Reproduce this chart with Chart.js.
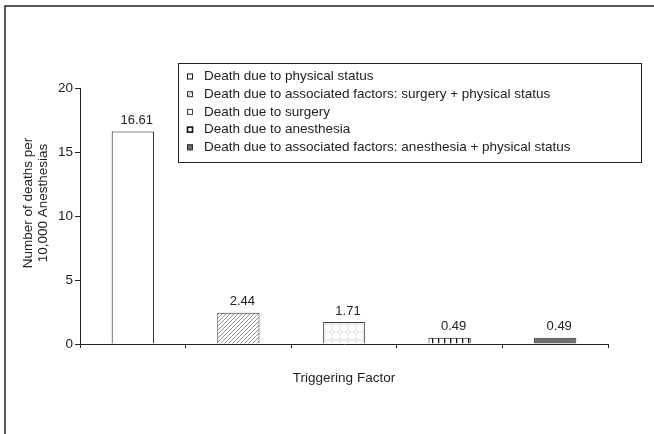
<!DOCTYPE html>
<html>
<head>
<meta charset="utf-8">
<script src="https://cdn.jsdelivr.net/npm/chart.js@4.4.1/dist/chart.umd.min.js"></script>
<style>
  html, body { margin: 0; padding: 0; background: #fff; }
  #wrap { width: 654px; height: 434px; position: relative; }
</style>
</head>
<body>
<div id="wrap"><canvas id="chart"></canvas></div>
<script>
const categories = [
  'Death due to physical status',
  'Death due to associated factors: surgery + physical status',
  'Death due to surgery',
  'Death due to anesthesia',
  'Death due to associated factors: anesthesia + physical status'
];
const deaths = [16.61, 2.44, 1.71, 0.49, 0.49];
const yTicks = [0, 5, 10, 15, 20];
const yTitle = ['Number of deaths per', '10,000 Anesthesias'];
const xTitle = 'Triggering Factor';

const FONT = '"Liberation Sans", Arial, sans-serif';
Chart.defaults.font.family = FONT;
Chart.defaults.font.size = 13.5;
Chart.defaults.color = '#222';

function makePattern(size, draw) {
  const c = document.createElement('canvas');
  c.width = size;
  c.height = size;
  const g = c.getContext('2d');
  g.fillStyle = '#fff';
  g.fillRect(0, 0, size, size);
  draw(g, size);
  return document.createElement('canvas').getContext('2d').createPattern(c, 'repeat');
}

const hatch = makePattern(4, (g, s) => {
  g.strokeStyle = '#777';
  g.lineWidth = 0.8;
  g.beginPath();
  g.moveTo(0, s); g.lineTo(s, 0);
  g.moveTo(-1, 1); g.lineTo(1, -1);
  g.moveTo(s - 1, s + 1); g.lineTo(s + 1, s - 1);
  g.stroke();
});

const puzzle = makePattern(8, (g) => {
  g.strokeStyle = '#d6d6d6';
  g.lineWidth = 0.7;
  g.beginPath();
  g.arc(4, 4, 1.6, 0, Math.PI * 2);
  g.moveTo(4, 0); g.lineTo(4, 2.4);
  g.moveTo(4, 5.6); g.lineTo(4, 8);
  g.moveTo(0, 4); g.lineTo(2.4, 4);
  g.moveTo(5.6, 4); g.lineTo(8, 4);
  g.stroke();
});

const stripes = makePattern(6, (g, s) => {
  g.fillStyle = '#111';
  g.fillRect(0, 0, 1.3, s);
});

const fills = ['#ffffff', hatch, puzzle, stripes, '#6e6e6e'];
const borders = ['#111', '#333', '#444', '#111', '#333'];

const framePlugin = {
  id: 'frame',
  beforeDraw(chart) {
    const {ctx} = chart;
    ctx.save();
    ctx.fillStyle = '#fff';
    ctx.fillRect(0, 0, chart.width, chart.height);
    ctx.strokeStyle = '#222';
    ctx.lineWidth = 1.5;
    ctx.beginPath();
    ctx.moveTo(5, chart.height);
    ctx.lineTo(5, 6);
    ctx.lineTo(chart.width, 6);
    ctx.stroke();
    ctx.restore();
  }
};

const extrasPlugin = {
  id: 'extras',
  afterDraw(chart) {
    const {ctx} = chart;
    ctx.save();
    ctx.fillStyle = '#222';

    // value labels
    ctx.font = '13px ' + FONT;
    ctx.textAlign = 'center';
    ctx.textBaseline = 'alphabetic';
    chart.getDatasetMeta(0).data.forEach((bar, i) => {
      ctx.fillText(deaths[i].toFixed(2), bar.x + 4, bar.y - 7.5);
    });

    // y title
    ctx.font = '13.5px ' + FONT;
    ctx.save();
    ctx.translate(28, 203);
    ctx.rotate(-Math.PI / 2);
    ctx.textBaseline = 'middle';
    yTitle.forEach((line, i) => ctx.fillText(line, 0, i * 15));
    ctx.restore();

    // legend
    ctx.strokeStyle = '#222';
    ctx.lineWidth = 1;
    ctx.strokeRect(178.5, 63.5, 463, 99);
    ctx.textAlign = 'left';
    ctx.textBaseline = 'middle';
    categories.forEach((label, i) => {
      const y = 76.5 + i * 17.7;
      ctx.fillStyle = fills[i];
      ctx.fillRect(187, y - 3, 6, 6);
      ctx.strokeStyle = borders[i];
      ctx.lineWidth = i === 3 ? 1.6 : 1;
      ctx.strokeRect(187.5, y - 2.5, 5, 5);
      ctx.fillStyle = '#222';
      ctx.fillText(label, 204, y);
    });
    ctx.restore();
  }
};

new Chart(document.getElementById('chart'), {
  type: 'bar',
  data: {
    labels: categories,
    datasets: [{
      data: deaths,
      backgroundColor: fills,
      borderColor: borders,
      borderWidth: 1,
      barPercentage: 0.4,
      categoryPercentage: 1
    }]
  },
  options: {
    responsive: true,
    maintainAspectRatio: false,
    animation: false,
    events: [],
    layout: { padding: { top: 88, left: 0, right: 46, bottom: 0 } },
    plugins: {
      legend: { display: false },
      tooltip: { enabled: false }
    },
    scales: {
      x: {
        ticks: { display: false },
        grid: { offset: true, drawOnChartArea: false, tickLength: 4, color: '#222' },
        border: { color: '#222', width: 1 },
        title: {
          display: true,
          text: xTitle,
          color: '#222',
          font: { size: 13.5 },
          padding: { top: 0, bottom: 48 }
        },
        afterFit(scale) { scale.height = 90; }
      },
      y: {
        min: 0,
        max: 20,
        afterBuildTicks(scale) { scale.ticks = yTicks.map(v => ({ value: v })); },
        ticks: { padding: 2, color: '#222', font: { size: 13.5 } },
        grid: { drawOnChartArea: false, tickLength: 5, color: '#222' },
        border: { color: '#222', width: 1 },
        afterFit(scale) { scale.width = 80; }
      }
    }
  },
  plugins: [framePlugin, extrasPlugin]
});
</script>
</body>
</html>
